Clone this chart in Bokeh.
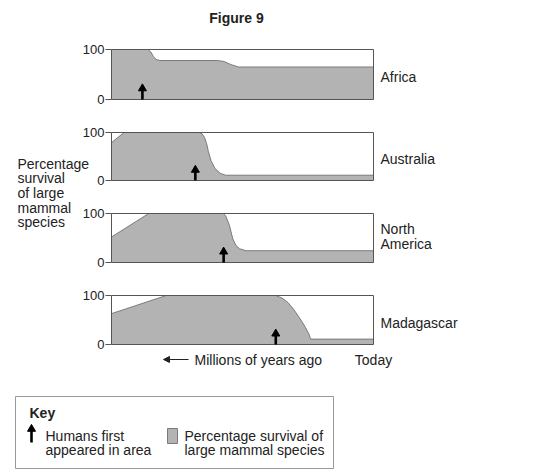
from bokeh.plotting import figure
from bokeh.models import Range1d, Arrow, NormalHead
from bokeh.embed import file_html
from bokeh.resources import INLINE
from bokeh.core.properties import value

# ---------------- data ----------------
# x: position along the time axis (0 = earliest shown, 100 = today)
# y: percentage survival of large mammal species
REGIONS = ["Africa", "Australia", "North America", "Madagascar"]

AFRICA_X = [0, 14.0, 15.0, 16.0, 17.0, 18.5, 40.5, 43.0, 45.5, 48.5, 100]
AFRICA_Y = [100, 100, 95, 86, 80, 78, 78, 76, 70, 65, 65]

AUSTRALIA_X = [0, 4.8, 33.5, 34.6, 35.5, 36.3, 37.0, 38.0, 39.5, 41.5, 43.5, 100]
AUSTRALIA_Y = [79, 100, 100, 97, 90, 77, 60, 41, 25, 15, 11, 11]

NAMERICA_X = [0, 14.2, 42.7, 43.6, 45.0, 46.3, 47.6, 48.9, 51.4, 100]
NAMERICA_Y = [52, 100, 100, 95, 76, 48, 34, 28, 24, 24]

MADAGASCAR_X = [0, 20.9, 62.7, 65.0, 67.3, 69.5, 71.3, 73.0, 74.0, 75.3, 76.0, 100]
MADAGASCAR_Y = [63, 100, 100, 95, 86, 72, 58, 44, 35, 22, 11, 11]

SERIES_X = [AFRICA_X, AUSTRALIA_X, NAMERICA_X, MADAGASCAR_X]
SERIES_Y = [AFRICA_Y, AUSTRALIA_Y, NAMERICA_Y, MADAGASCAR_Y]

HUMANS_X = [11.8, 32.0, 42.8, 62.7]   # when humans first appeared
Y_TICKS = [0, 100]
Y_TICK_LABELS = ["0", "100"]
X_START, X_END = 0, 100

CAPTION = ["Percentage", "survival", "of large", "mammal", "species"]
KEY_ITEMS = [["Humans first", "appeared in area"],
             ["Percentage survival of", "large mammal species"]]

# ---------------- layout / style ----------------
FONT = "Liberation Sans"
FS = "14px"
TXT = "#222222"
GREY = "#b3b3b3"
EDGE = "#7a7a7a"
BOX = "#555555"
W, H = 523, 470
PX_LEFT, PX_RIGHT = 111, 373                      # time axis span on canvas
PANEL_PX = [(49, 99), (132, 180), (213, 262), (295, 344)]  # (top, bottom)

s_t = (PX_RIGHT - PX_LEFT) / (X_END - X_START)
p = figure(width=W, height=H, x_range=Range1d(0, W), y_range=Range1d(H, 0),
           x_axis_location=None, y_axis_location=None, toolbar_location=None,
           output_backend="svg", min_border=0)
p.grid.visible = False
p.outline_line_color = None
p.background_fill_color = "white"
p.border_fill_color = "white"
p.extra_x_ranges = {"t": Range1d(X_START - PX_LEFT / s_t, X_END + (W - PX_RIGHT) / s_t)}
for i, (top, bot) in enumerate(PANEL_PX):
    s = (bot - top) / 100.0
    p.extra_y_ranges[f"p{i}"] = Range1d(-(H - bot) / s, 100 + top / s)


def txt(x, y, t, size=FS, align="left", style="normal", xr="default", yr="default"):
    p.text(x=[x], y=[y], text=[t], text_font=value(FONT), text_font_size=value(size),
           text_color=TXT, text_align=align, text_baseline="middle",
           text_font_style=style, x_range_name=xr, y_range_name=yr)


TICK_LEN = 6 / s_t
for i, name in enumerate(REGIONS):
    yr = f"p{i}"
    xs, ys = SERIES_X[i], SERIES_Y[i]
    p.varea(x=xs, y1=[0] * len(xs), y2=ys, fill_color=GREY,
            x_range_name="t", y_range_name=yr)
    p.line(x=xs, y=ys, line_color=EDGE, line_width=1, x_range_name="t", y_range_name=yr)
    # panel frame
    p.quad(left=[X_START], right=[X_END], bottom=[0], top=[100], fill_color=None,
           line_color=BOX, line_width=1, x_range_name="t", y_range_name=yr)
    # y ticks and labels
    p.segment(x0=[X_START - TICK_LEN] * 2, x1=[X_START] * 2, y0=Y_TICKS, y1=Y_TICKS,
              line_color=BOX, line_width=1, x_range_name="t", y_range_name=yr)
    p.text(x=[X_START - TICK_LEN - 1.0 / s_t] * 2, y=Y_TICKS, text=Y_TICK_LABELS,
           text_font=value(FONT), text_font_size=value("13px"), text_color=TXT,
           text_align="right", text_baseline="middle", x_range_name="t", y_range_name=yr)
    # arrow: humans first appeared
    hx = HUMANS_X[i]
    p.segment(x0=[hx], y0=[0], x1=[hx], y1=[20], line_color="black", line_width=2.6,
              x_range_name="t", y_range_name=yr)
    p.scatter(x=[hx], y=[22], marker="triangle", size=8, color="black",
              x_range_name="t", y_range_name=yr)

# region labels
txt(380, 76, "Africa")
txt(380, 158, "Australia")
txt(380, 228, "North")
txt(380, 243, "America")
txt(380, 322, "Madagascar")

# title
txt(236, 17, "Figure 9", size="14px", align="center", style="bold")

# y caption
for j, line in enumerate(CAPTION):
    txt(17, 163 + j * 14.7, line)

# time note
p.add_layout(Arrow(x_start=188, y_start=359, x_end=163, y_end=359,
                   line_color=TXT, line_width=1,
                   end=NormalHead(size=6, fill_color=TXT, line_color=TXT)))
txt(194, 359, "Millions of years ago")
txt(X_END, 359, "Today", align="center", xr="t")

# ---------------- key ----------------
p.quad(left=[15], right=[333], top=[396], bottom=[468], fill_color="white",
       line_color="#999999", line_width=1)
txt(29, 412, "Key", style="bold")
p.segment(x0=[31], y0=[442], x1=[31], y1=[430], line_color="black", line_width=2.6)
p.scatter(x=[31], y=[428.5], marker="triangle", size=8, color="black")
txt(45, 435, KEY_ITEMS[0][0])
txt(45, 449, KEY_ITEMS[0][1])
p.quad(left=[167], right=[177], top=[428], bottom=[443], fill_color=GREY,
       line_color=EDGE, line_width=1)
txt(184, 435, KEY_ITEMS[1][0])
txt(184, 449, KEY_ITEMS[1][1])

open("out.html", "w").write(file_html(p, INLINE))
